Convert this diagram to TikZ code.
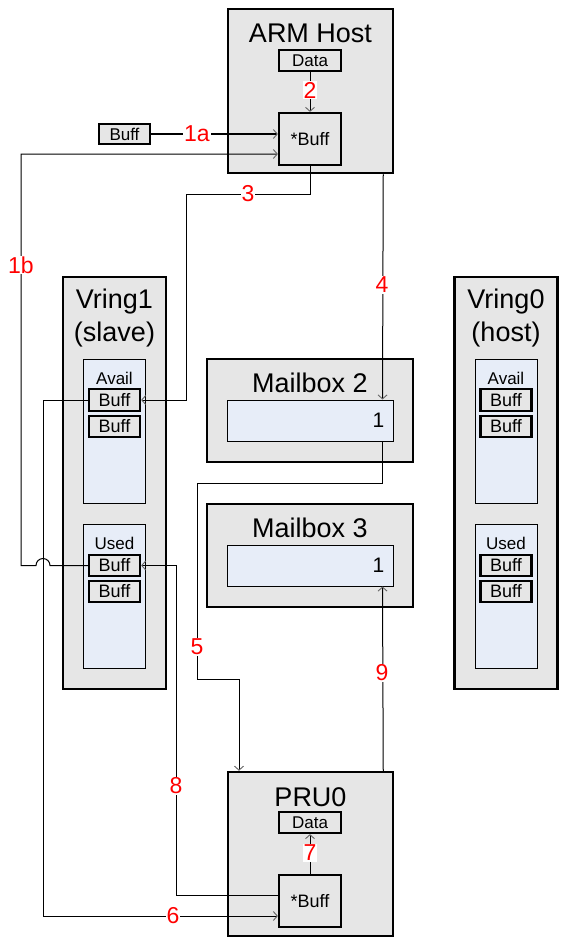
\documentclass[tikz,border=0pt]{standalone}
\usepackage{fontspec}
\setmainfont{Liberation Sans}
\usetikzlibrary{arrows.meta}
\usetikzlibrary{positioning}
\definecolor{boxgray}{RGB}{230,230,230}
\definecolor{ringblue}{RGB}{231,237,248}
\tikzset{
heavy/.style={line width=2.5pt},
block/.style 2 args={draw, heavy, fill=boxgray, minimum width=#1, minimum height=#2, inner sep=0pt},
field/.style 2 args={draw, line width=2.2pt, fill=boxgray, minimum width=#1, minimum height=#2, inner sep=0pt, font=\fontsize{17}{17}\selectfont},
queue/.style 2 args={draw, line width=1pt, fill=ringblue, minimum width=#1, minimum height=#2, inner sep=0pt},
title/.style={font=\fontsize{27}{33}\selectfont, align=center, inner sep=0pt},
small/.style={font=\fontsize{17}{17}\selectfont, inner sep=0pt},
flow/.style={line width=1pt, -{Straight Barb[length=4pt, width=9pt, line width=0.9pt, color=gray!80!black]}},
num/.style={text=red, fill=white, inner sep=1pt, font=\fontsize{23}{23}\selectfont},
}

\begin{document}
\begin{tikzpicture}[x=1pt, y=-1pt]
\useasboundingbox[fill=white] (0,0) rectangle (578,947);

%ARM host
\node[block={165pt}{164pt}] (arm) at (310.5,91) {};
\node[title] (armt) at (310.5,33) {ARM Host};
\node[field={62pt}{21pt}] (armdata) at (310,60.5) {Data};
\node[field={62pt}{52pt}, font=\fontsize{18}{18}\selectfont] (armptr) at (310,139) {*Buff};
\node[field={51pt}{20pt}] (buff) at (124.5,134) {Buff};

%PRU0
\node[block={165pt}{164pt}] (pru) at (310.5,854) {};
\node[title] (prut) at (310.5,797) {PRU0};
\node[field={62pt}{21pt}] (prudata) at (310,822.5) {Data};
\node[field={62pt}{52pt}, font=\fontsize{18}{18}\selectfont] (pruptr) at (310,901) {*Buff};

%Mailboxes
\foreach \m/\y in {2/410.5, 3/555.5} {
	\node[block={206pt}{103pt}] (mb\m) at (310,\y) {};
	\node[title] (mb\m t) at (310,\y-27.5) {Mailbox \m};
	\node[queue={166pt}{41pt}] (mb\m slot) at (310,\y+10) {};
	\node[small, font=\fontsize{21}{21}\selectfont, anchor=east] (mb\m val) at ([xshift=-9pt]mb\m slot.east) {1};
}

%Vrings
\foreach \v/\x/\role in {1/114.5/slave, 0/506/host} {
	\node[block={103pt}{412pt}] (v\v) at (\x,483) {};
	\node[title] (v\v t) at (\x,318) {Vring\v\\(\role)};
	\node[queue={62pt}{144pt}] (v\v avail) at (\x,431) {};
	\node[small] (v\v availt) at (\x,378) {Avail};
	\node[field={51pt}{22pt}, font=\fontsize{18}{18}\selectfont] (v\v a1) at (\x,400) {Buff};
	\node[field={51pt}{21pt}, font=\fontsize{18}{18}\selectfont] (v\v a2) at (\x,426.5) {Buff};
	\node[queue={62pt}{144pt}] (v\v used) at (\x,596) {};
	\node[small] (v\v usedt) at (\x,543) {Used};
	\node[field={51pt}{21pt}, font=\fontsize{18}{18}\selectfont] (v\v u1) at (\x,565.5) {Buff};
	\node[field={51pt}{21pt}, font=\fontsize{18}{18}\selectfont] (v\v u2) at (\x,591.5) {Buff};
}

%Bend points
\coordinate (c1b) at (21,154);
\coordinate (c3) at (186,194);
\coordinate (c5a) at (197,483);
\coordinate (c5b) at (239,679);
\coordinate (c6) at (43,916);
\coordinate (c8) at (176,895);

%Connectors
\draw[flow] (buff.east) -- (buff.east -| armptr.west);
\draw[flow] (v1u1.west) -- ([xshift=7pt]v1u1.west -| c6) arc[start angle=0, end angle=180, radius=7pt] -| (c1b) -- (c1b -| armptr.west);
\draw[flow] (armdata.south) -- (armptr.north);
\draw[flow] (armptr.south) |- (c3) |- (v1a1.east);
\draw[flow] ([xshift=-11pt]arm.south east) -- ([xshift=-11pt]mb2slot.north east);
\draw[flow] ([xshift=-11pt]mb2slot.south east) |- (c5a) |- (c5b) -- (c5b |- pru.north);
\draw[flow] (v1a1.west) -| (c6) -- (c6 -| pruptr.west);
\draw[flow] (pruptr.north) -- (prudata.south);
\draw[flow] (c8 -| pruptr.west) -- (c8) |- (v1u1.east);
\draw[flow] ([xshift=-11pt]pru.north east) -- ([xshift=-11pt]mb3slot.south east);

%Step numbers
\node[num] (n1a) at (197,134) {1a};
\node[num] (n1b) at (21,265) {1b};
\node[num] (n2) at (310,90) {2};
\node[num] (n3) at (248,194) {3};
\node[num] (n4) at (382,285) {4};
\node[num] (n5) at (197,647) {5};
\node[num] (n6) at (173,916) {6};
\node[num] (n7) at (310,853) {7};
\node[num] (n8) at (176,786) {8};
\node[num] (n9) at (382,673) {9};

\end{tikzpicture}
\end{document}
